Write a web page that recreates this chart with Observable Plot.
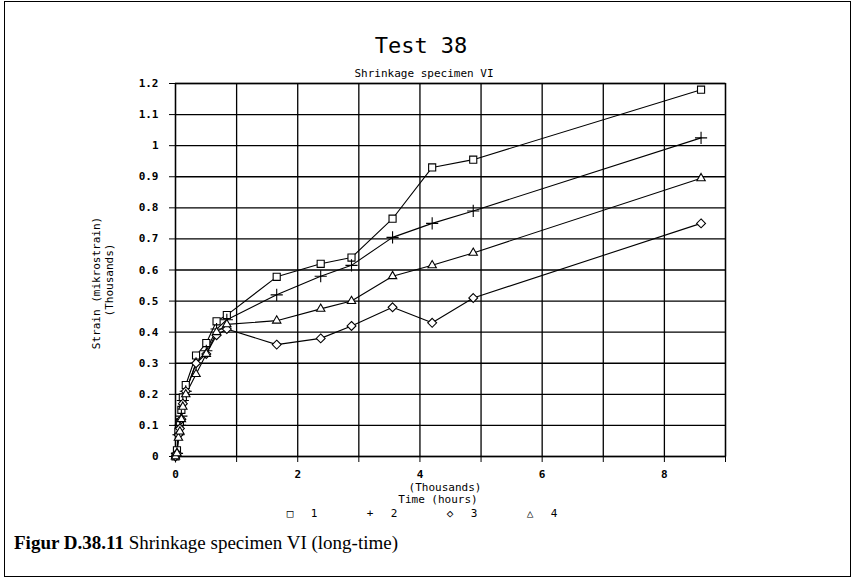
<!DOCTYPE html>
<html>
<head>
<meta charset="utf-8">
<script src="https://cdn.jsdelivr.net/npm/d3@7"></script>
<script src="https://cdn.jsdelivr.net/npm/@observablehq/plot@0.6"></script>
<style>
  html, body { margin: 0; padding: 0; background: #fff; }
  #wrap { position: relative; width: 855px; height: 581px; overflow: hidden; font-family: "DejaVu Sans Mono", monospace; color: #000; }
  #border { position: absolute; left: 4px; top: 1px; width: 847px; height: 576px; border: 1px solid #000; box-sizing: border-box; }
  .t { position: absolute; white-space: nowrap; transform: translate(-50%, -50%); }
  .lbl { font-size: 11px; }
  #caption { position: absolute; left: 14px; top: 532px; font-family: "Liberation Serif", "Times New Roman", serif; font-size: 19px; white-space: nowrap; }
  #chart svg g[aria-label="y-axis tick label"] text, #chart svg g[aria-label="x-axis tick label"] text { font-weight: bold; }
</style>
</head>
<body>
<div id="wrap">
  <div id="chart"></div>
  <div id="border"></div>
  <div class="t" style="left:421px;top:45px;font-size:22px;">Test 38</div>
  <div class="t" style="left:424px;top:73px;font-size:11px;">Shrinkage specimen VI</div>
  <div class="t lbl" style="left:96px;top:283px;transform:translate(-50%,-50%) rotate(-90deg);">Strain (mikrostrain)</div>
  <div class="t lbl" style="left:109px;top:280px;transform:translate(-50%,-50%) rotate(-90deg);">(Thousands)</div>
  <div class="t lbl" style="left:445px;top:487px;">(Thousands)</div>
  <div class="t lbl" style="left:438px;top:499px;">Time (hours)</div>
  <div id="legend"></div>
  <div id="caption"><b>Figur D.38.11</b> Shrinkage specimen VI (long-time)</div>
</div>
<script>
// Time in thousands of hours
const time = [0, 0.024, 0.048, 0.072, 0.096, 0.12, 0.168, 0.336, 0.504, 0.672, 0.84, 1.656, 2.376, 2.88, 3.552, 4.2, 4.872, 8.6];
// Strain (thousands of microstrain) per specimen
const series1 = [0, 0.02, 0.08, 0.11, 0.15, 0.19, 0.23, 0.325, 0.365, 0.435, 0.455, 0.578, 0.62, 0.64, 0.765, 0.93, 0.955, 1.18];
const series2 = [0, 0.01, 0.07, 0.10, 0.13, 0.18, 0.21, 0.30, 0.34, 0.41, 0.44, 0.52, 0.58, 0.615, 0.705, 0.75, 0.79, 1.025];
const series3 = [0, 0.01, 0.07, 0.09, 0.12, 0.17, 0.21, 0.30, 0.33, 0.39, 0.41, 0.36, 0.38, 0.42, 0.48, 0.43, 0.51, 0.75];
const series4 = [0, 0.01, 0.06, 0.08, 0.12, 0.16, 0.20, 0.265, 0.33, 0.40, 0.425, 0.437, 0.475, 0.50, 0.58, 0.615, 0.655, 0.895];
const seriesNames = ["1", "2", "3", "4"];
const seriesSymbols = ["square", "plus", "diamond2", "triangle2"];
const legendChars = ["\u25A1", "+", "\u25C7", "\u25B3"];
const yTicks = [0, 0.1, 0.2, 0.3, 0.4, 0.5, 0.6, 0.7, 0.8, 0.9, 1.0, 1.1, 1.2];
const xTicks = [0, 1, 2, 3, 4, 5, 6, 7, 8, 9];
const xLabels = [0, 2, 4, 6, 8];

const all = [series1, series2, series3, series4];
const rows = [];
all.forEach((vals, i) => vals.forEach((v, j) => rows.push({t: time[j], v, s: seriesNames[i]})));

const chart = Plot.plot({
  width: 855,
  height: 581,
  marginLeft: 175,
  marginRight: 130,
  marginTop: 83,
  marginBottom: 125,
  style: {fontFamily: "DejaVu Sans Mono, monospace", fontSize: "11px", color: "#000", background: "transparent"},
  x: {domain: [0, 9]},
  y: {domain: [0, 1.2]},
  symbol: {domain: seriesNames, range: seriesSymbols},
  marks: [
    Plot.gridX(xTicks, {stroke: "#000", strokeOpacity: 1, strokeWidth: 1.3}),
    Plot.gridY(yTicks, {stroke: "#000", strokeOpacity: 1, strokeWidth: 1.3}),
    Plot.frame({stroke: "#000", strokeWidth: 1.3}),
    Plot.axisY(yTicks, {tickSize: 6, tickPadding: 11, tickFormat: d => String(+d.toFixed(1)), label: null, fontSize: 11}),
    Plot.axisX(xTicks, {tickSize: 6, tickPadding: 8, tickFormat: d => xLabels.includes(d) ? String(d) : "", label: null, fontSize: 11}),
    Plot.line(rows, {x: "t", y: "v", z: "s", stroke: "#000", strokeWidth: 1.1}),
    Plot.dot(rows, {x: "t", y: "v", symbol: "s", r: 4, stroke: "#000", strokeWidth: 1.1, fill: "#fff"})
  ]
});
document.getElementById("chart").appendChild(chart);

const legendX = [290, 370, 450, 530];
const legend = document.getElementById("legend");
seriesNames.forEach((n, i) => {
  const a = document.createElement("div");
  a.className = "t lbl";
  a.style.left = legendX[i] + "px"; a.style.top = "513px";
  a.textContent = legendChars[i];
  legend.appendChild(a);
  const b = document.createElement("div");
  b.className = "t lbl";
  b.style.left = (legendX[i] + 24) + "px"; b.style.top = "513px";
  b.textContent = n;
  legend.appendChild(b);
});
</script>
</body>
</html>
